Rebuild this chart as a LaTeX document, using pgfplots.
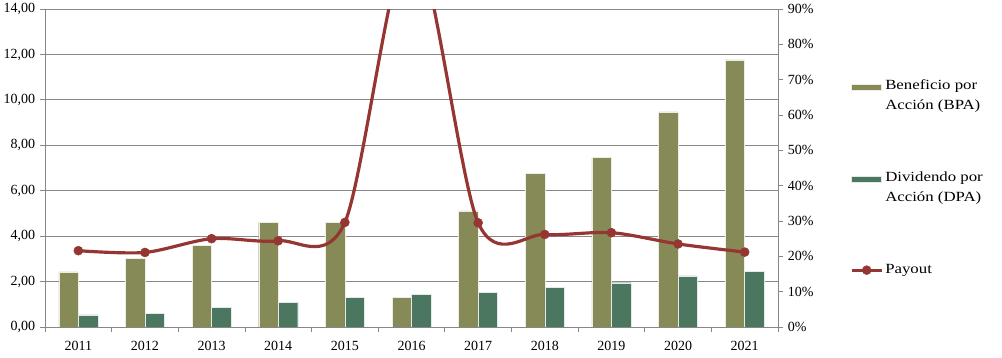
\documentclass[border=0pt]{standalone}
\usepackage{pgfplots}
\pgfplotsset{compat=1.18}
\usepackage{fontspec}
\setmainfont{Liberation Serif}
\newfontfamily\legfont[FakeStretch=1.2]{Liberation Serif}
\definecolor{bpa}{RGB}{134,138,86}
\definecolor{dpa}{RGB}{75,118,96}
\definecolor{pay}{RGB}{150,54,50}
\definecolor{axgray}{RGB}{135,135,135}
\pgfplotsset{paylegend/.style={legend image code/.code={\draw[pay,line width=3.2pt] (0bp,0bp) -- (30bp,0bp); \fill[pay] (15bp,0bp) circle (4.5bp);}}}
\begin{document}
\fontsize{14bp}{17bp}\selectfont
\begin{tikzpicture}
\path[use as bounding box] (-45bp,-31bp) rectangle (957bp,327bp);
\begin{axis}[
  scale only axis, width=733bp, height=318bp,
  xmin=-0.5, xmax=10.5, ymin=0, ymax=14,
  ybar=0pt, bar width=19.5bp,
  axis x line*=bottom, axis y line*=left,
  axis line style={axgray, line width=0.8pt},
  xtick={0,...,10},
  xticklabels={2011,2012,2013,2014,2015,2016,2017,2018,2019,2020,2021},
  xticklabel style={yshift=-4bp},
  minor xtick={-0.5,0.5,...,10.5},
  major x tick style={draw=none},
  minor x tick style={axgray, line width=0.8pt},
  minor tick length=5bp,
  ytick={0,2,...,14},
  y tick style={axgray, line width=0.8pt},
  major tick length=5bp,
  tick align=outside,
  ymajorgrids, grid style={axgray, line width=0.8pt},
  yticklabel style={/pgf/number format/.cd, fixed, fixed zerofill, precision=2, use comma},
  /pgf/number format/assume math mode=true,
  tick label style={font=\fontsize{14bp}{17bp}\selectfont},
  legend style={draw=none, at={(1.094,0.7906)}, anchor=north west, font=\legfont\fontsize{14bp}{20bp}\selectfont, row sep=56.5bp, nodes={align=left}},
  legend cell align=left,
  legend image code/.code={\fill[#1] (0bp,6bp) rectangle (30bp,12bp);},
]
\addplot[fill=bpa, draw=white!85!bpa, line width=0.4pt] coordinates {(0,2.43) (1,3.02) (2,3.61) (3,4.61) (4,4.61) (5,1.31) (6,5.11) (7,6.75) (8,7.46) (9,9.47) (10,11.76)};
\addlegendentry{Beneficio por\\Acción (BPA)}
\addplot[fill=dpa, draw=white!85!dpa, line width=0.4pt] coordinates {(0,0.53) (1,0.60) (2,0.88) (3,1.09) (4,1.31) (5,1.45) (6,1.53) (7,1.75) (8,1.95) (9,2.25) (10,2.45)};
\addlegendentry{Dividendo por\\Acción (DPA)}
\addlegendimage{paylegend}
\addlegendentry{Payout}
\end{axis}
\begin{axis}[
  scale only axis, width=733bp, height=318bp,
  xmin=-0.5, xmax=10.5, ymin=0, ymax=90,
  axis x line=none, axis y line*=right,
  axis line style={axgray, line width=0.8pt},
  ytick={0,10,...,90},
  yticklabel={\pgfmathprintnumber{\tick}\%},
  y tick style={axgray, line width=0.8pt},
  major tick length=5bp, tick align=outside,
  /pgf/number format/assume math mode=true,
  tick label style={font=\fontsize{14bp}{17bp}\selectfont},
]
\addplot[pay, line width=3.2pt, smooth, tension=0.5, mark=*, mark size=4.5bp, mark options={fill=pay, line width=0.5pt}] coordinates {(0,21.6) (1,21.1) (2,25.0) (3,24.4) (4,29.6) (5,110) (6,29.5) (7,26.2) (8,26.7) (9,23.5) (10,21.2)};
\end{axis}
\end{tikzpicture}
\end{document}
